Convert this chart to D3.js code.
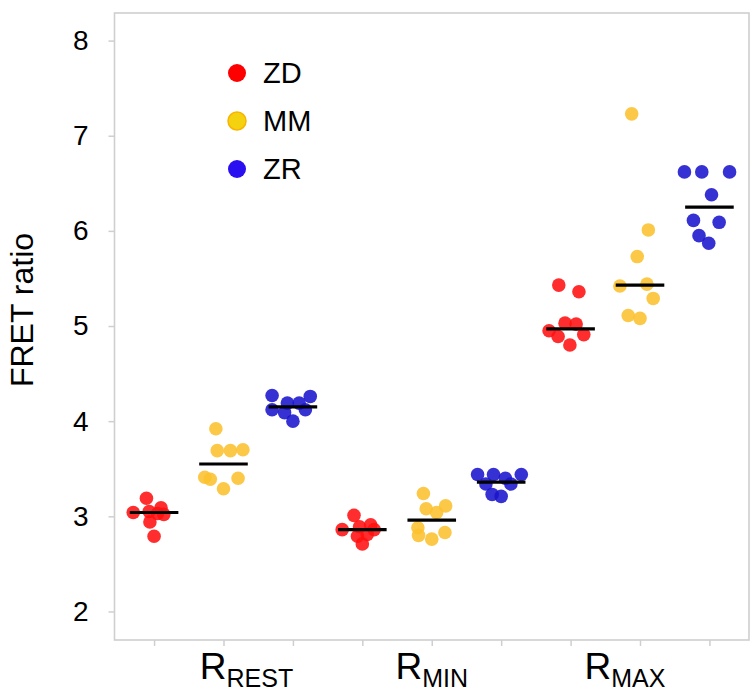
<!DOCTYPE html>
<html><head><meta charset="utf-8">
<script src="https://cdn.jsdelivr.net/npm/d3@7"></script>
<style>body{margin:0;background:#fff}svg{display:block;font-family:"Liberation Sans",Arial,sans-serif}</style>
</head><body>
<svg id="c" width="750" height="694"></svg>
<script>
const groups = ["REST", "MIN", "MAX"];
const series = ["ZD", "MM", "ZR"];
const colors = {ZD: "#ff1010", MM: "#fcc02e", ZR: "#1a14cc"};
const legendColors = {ZD: "#ff0000", MM: "#f5d20f", ZR: "#2a0ff0"};
const yTicks = [2, 3, 4, 5, 6, 7, 8];

// observed values per group/series (FRET ratio)
const ZD_REST = [3.19, 3.04, 3.05, 3.09, 3.02, 2.94, 2.79, 3.03];
const MM_REST = [3.92, 3.69, 3.69, 3.70, 3.41, 3.39, 3.40, 3.29];
const ZR_REST = [4.27, 4.26, 4.12, 4.19, 4.19, 4.12, 4.09, 4.00];
const ZD_MIN  = [3.01, 2.86, 2.89, 2.91, 2.86, 2.79, 2.71, 2.81];
const MM_MIN  = [3.24, 3.08, 3.04, 3.11, 2.88, 2.80, 2.76, 2.83];
const ZR_MIN  = [3.44, 3.44, 3.40, 3.44, 3.34, 3.34, 3.23, 3.21];
const ZD_MAX  = [5.43, 5.36, 5.03, 5.02, 4.95, 4.89, 4.91, 4.80];
const MM_MAX  = [7.23, 6.01, 5.73, 5.42, 5.44, 5.29, 5.11, 5.08];
const ZR_MAX  = [6.62, 6.62, 6.62, 6.38, 6.11, 6.09, 5.95, 5.87];

// medians (horizontal bars)
const medians = {
  "REST-ZD": 3.04, "REST-MM": 3.55, "REST-ZR": 4.15,
  "MIN-ZD": 2.86,  "MIN-MM": 2.96,  "MIN-ZR": 3.36,
  "MAX-ZD": 4.97,  "MAX-MM": 5.43,  "MAX-ZR": 6.25
};

// horizontal jitter of each point, as fraction of slot step
const J_ZD_REST = [-0.11, -0.30, -0.07, 0.10, 0.14, -0.06, 0.00, 0.05];
const J_MM_REST = [-0.11, -0.09, 0.10, 0.28, -0.27, -0.19, 0.21, 0.00];
const J_ZR_REST = [-0.30, 0.25, -0.30, -0.08, 0.09, 0.18, -0.12, 0.00];
const J_ZD_MIN  = [-0.12, -0.29, -0.04, 0.12, 0.17, -0.07, 0.00, 0.07];
const J_MM_MIN  = [-0.12, -0.08, 0.07, 0.20, -0.20, -0.19, 0.00, 0.19];
const J_ZR_MIN  = [-0.34, -0.11, 0.06, 0.29, -0.22, 0.14, -0.13, 0.00];
const J_ZD_MAX  = [-0.17, 0.12, -0.08, 0.08, -0.31, -0.18, 0.19, -0.01];
const J_MM_MAX  = [-0.12, 0.12, -0.04, -0.29, 0.10, 0.19, -0.17, 0.00];
const J_ZR_MAX  = [-0.36, -0.11, 0.29, 0.03, -0.23, 0.14, -0.15, -0.01];

const values = {
  "REST-ZD": [ZD_REST, J_ZD_REST], "REST-MM": [MM_REST, J_MM_REST], "REST-ZR": [ZR_REST, J_ZR_REST],
  "MIN-ZD": [ZD_MIN, J_ZD_MIN], "MIN-MM": [MM_MIN, J_MM_MIN], "MIN-ZR": [ZR_MIN, J_ZR_MIN],
  "MAX-ZD": [ZD_MAX, J_ZD_MAX], "MAX-MM": [MM_MAX, J_MM_MAX], "MAX-ZR": [ZR_MAX, J_ZR_MAX]
};

const svg = d3.select("#c");
const L = 114.5, R = 749, T = 13, B = 640;

const slots = [];
groups.forEach(g => series.forEach(s => slots.push(g + "-" + s)));
const x = d3.scalePoint().domain(slots).range([L, R]).padding(0.57);
const step = x.step();
const y = d3.scaleLinear().domain([1.7, 8.29]).range([B, T]);

// frame
svg.append("rect").attr("x", L).attr("y", T).attr("width", R - L).attr("height", B - T)
  .attr("fill", "none").attr("stroke", "#cfcfcf").attr("stroke-width", 1.6);

// y axis
const yAxis = svg.append("g").attr("transform", `translate(${L},0)`)
  .call(d3.axisLeft(y).tickValues(yTicks).tickSize(6).tickPadding(20).tickFormat(d3.format("d")));
yAxis.select(".domain").remove();
yAxis.selectAll(".tick line").attr("stroke", "#cfcfcf").attr("stroke-width", 1.5);
yAxis.selectAll(".tick text").attr("font-size", 28).attr("fill", "#000")
  .attr("font-family", "Liberation Sans, Arial, sans-serif");

// x axis ticks
const xAxis = svg.append("g").attr("transform", `translate(0,${B})`)
  .call(d3.axisBottom(x).tickSize(6).tickFormat(""));
xAxis.select(".domain").remove();
xAxis.selectAll(".tick line").attr("stroke", "#cfcfcf").attr("stroke-width", 1.5);

// x group labels
const labelShift = {REST: 23, MIN: 0, MAX: -15};
groups.forEach(g => {
  const t = svg.append("text").attr("x", x(g + "-MM") + labelShift[g]).attr("y", 679)
    .attr("text-anchor", "middle").attr("fill", "#000");
  t.append("tspan").attr("font-size", 37).text("R");
  t.append("tspan").attr("font-size", 25).attr("dy", 8).text(g);
});

// y title
svg.append("text").attr("transform", "translate(33,310) rotate(-90)")
  .attr("text-anchor", "middle").attr("font-size", 32).attr("fill", "#000").text("FRET ratio");

// points
slots.forEach(k => {
  const s = k.split("-")[1];
  const [vals, jit] = values[k];
  svg.append("g").selectAll("circle").data(vals.map((v, i) => ({v, j: jit[i]})))
    .join("circle")
    .attr("cx", d => x(k) + d.j * step)
    .attr("cy", d => y(d.v))
    .attr("r", 6.8)
    .attr("fill", colors[s])
    .attr("fill-opacity", 0.88);
});

// medians
svg.append("g").selectAll("line").data(slots).join("line")
  .attr("x1", k => x(k) - 0.35 * step)
  .attr("x2", k => x(k) + 0.35 * step)
  .attr("y1", k => y(medians[k])).attr("y2", k => y(medians[k]))
  .attr("stroke", "#000").attr("stroke-width", 3.2);

// legend
const lg = svg.append("g");
series.forEach((s, i) => {
  const yy = 73 + i * 48;
  lg.append("circle").attr("cx", 237).attr("cy", yy).attr("r", 9)
    .attr("fill", legendColors[s])
    .attr("stroke", s === "MM" ? "#f8b400" : "none").attr("stroke-width", 1.5);
  lg.append("text").attr("x", 263).attr("y", yy).attr("dy", "0.36em")
    .attr("font-size", 29).attr("fill", "#000").text(s);
});
</script>
</body></html>
